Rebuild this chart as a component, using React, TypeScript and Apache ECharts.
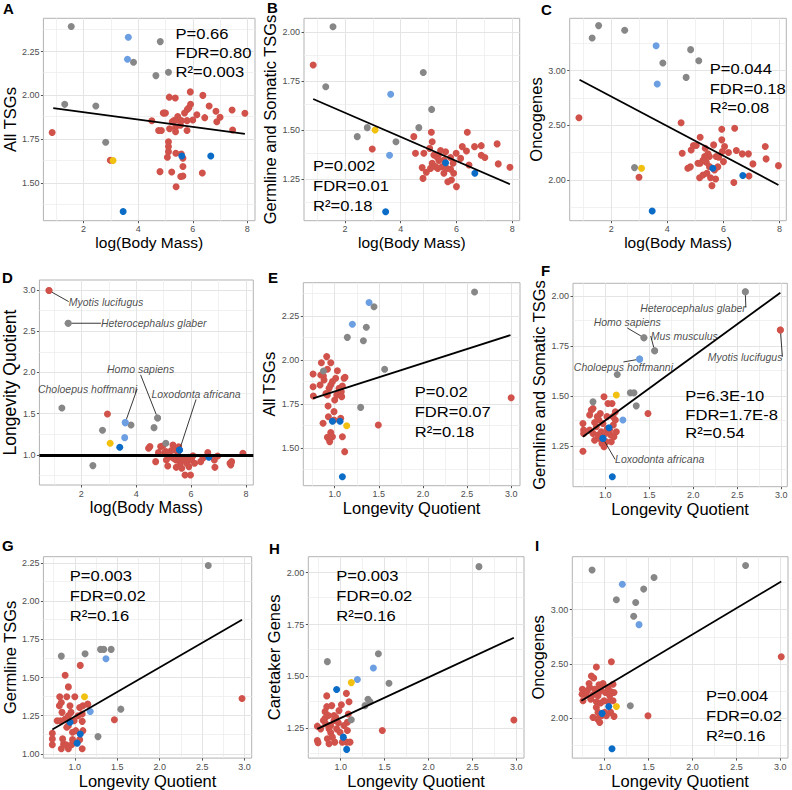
import React, { useEffect, useRef } from "react";
import * as echarts from "echarts";

const FONT = "'Liberation Sans', Arial, Helvetica, sans-serif";
const RED = "#D0524A";
const GRAY = "#878787";
const LBLUE = "#6C9FE2";
const BLUE = "#0A6CC6";
const YELLOW = "#F2C00F";

// ---- tick values ----
const bodyMassTicks = [2, 4, 6, 8];
const bodyMassMinor = [1, 3, 5, 7];
const lqTicks = [1.0, 1.5, 2.0, 2.5, 3.0];
const lqMinor = [0.75, 1.25, 1.75, 2.25, 2.75];
const allTsgTicks = [1.5, 1.75, 2.0, 2.25];
const allTsgMinor = [1.375, 1.625, 1.875, 2.125, 2.375];
const gsTicks = [1.25, 1.5, 1.75, 2.0];
const gsMinor = [1.125, 1.375, 1.625, 1.875];
const oncoTicks = [2.0, 2.5, 3.0];
const oncoMinor = [1.75, 2.25, 2.75, 3.25];
const germTicks = [1.0, 1.25, 1.5, 1.75, 2.0, 2.25];
const germMinor = [1.125, 1.375, 1.625, 1.875, 2.125];

// ---- Panel A: log(Body Mass) vs All TSGs ----
const A_red = [[0.85,1.788],[2.98,1.63],[4.5,1.855],[4.75,1.8],[4.85,1.8],[4.8,1.565],[4.92,1.9],[5.0,1.9],[5.14,1.99],[5.36,1.985],[5.11,1.736],[5.11,1.708],[5.11,1.679],[5.07,1.647],[5.23,1.563],[5.31,1.856],[5.4,1.86],[5.37,1.818],[5.37,1.793],[5.38,1.67],[5.58,1.856],[5.58,1.666],[5.64,1.641],[5.64,1.594],[5.56,1.537],[5.64,1.54],[5.39,1.479],[5.79,1.856],[5.79,1.8],[5.8,1.92],[5.86,1.93],[5.92,1.95],[5.91,2.02],[6.0,1.86],[6.15,1.89],[6.37,2.0],[6.44,1.873],[6.6,1.94],[6.35,1.557],[6.85,1.91],[6.88,1.85],[7.0,1.875],[7.44,1.917],[7.46,1.803],[7.91,1.898],[5.25,1.85],[5.45,1.88],[5.7,1.9],[5.55,1.83],[4.95,1.9],[5.15,1.81]];
const A_gray = [[1.55,2.393],[4.81,2.307],[3.83,2.189],[5.11,2.132],[4.65,2.113],[1.31,1.949],[2.45,1.94],[2.81,1.733]];
const A_lblue = [[3.64,2.332],[3.61,2.206]];
const A_blue = [[3.45,1.337],[6.66,1.654],[5.6,1.654]];
const A_yellow = [[3.08,1.628]];
const A_fit = [[0.89,1.927],[7.91,1.78]];
const A_stats = ["P=0.66", "FDR=0.80", "R²=0.003"];

// ---- Panel B: log(Body Mass) vs Germline and Somatic TSGs ----
const B_red = [[0.86,1.832],[2.98,1.403],[4.47,1.466],[4.53,1.381],[4.77,1.308],[4.83,1.381],[4.8,1.253],[4.92,1.284],[5.04,1.406],[5.13,1.44],[5.19,1.372],[5.13,1.33],[5.07,1.304],[5.29,1.364],[5.33,1.304],[5.37,1.344],[5.43,1.395],[5.49,1.313],[5.55,1.279],[5.61,1.389],[5.65,1.304],[5.69,1.236],[5.79,1.36],[5.82,1.245],[5.88,1.33],[5.9,1.279],[5.99,1.381],[6.0,1.211],[6.15,1.355],[6.36,1.393],[6.39,1.488],[6.45,1.321],[6.65,1.415],[6.89,1.42],[6.89,1.371],[7.02,1.36],[7.46,1.429],[7.5,1.327],[7.92,1.31],[5.79,1.3],[5.55,1.347],[5.25,1.313],[6.21,1.415],[5.1,1.488],[5.35,1.37]];
const B_gray = [[1.57,2.027],[1.31,1.721],[4.81,1.793],[5.11,1.605],[4.65,1.512],[2.8,1.512],[2.44,1.466],[3.83,1.44]];
const B_lblue = [[3.64,1.682],[3.6,1.371]];
const B_blue = [[3.46,1.083],[5.61,1.333],[6.66,1.279]];
const B_yellow = [[3.08,1.5]];
const B_fit = [[0.86,1.658],[7.92,1.223]];
const B_stats = ["P=0.002", "FDR=0.01", "R²=0.18"];

// ---- Panel C: log(Body Mass) vs Oncogenes ----
const C_red = [[0.85,2.569],[2.99,2.024],[4.49,2.523],[4.53,2.245],[4.73,2.107],[4.82,2.12],[4.85,2.275],[4.93,2.315],[5.03,2.315],[5.09,2.153],[5.15,2.021],[5.17,2.153],[5.17,2.391],[5.27,2.046],[5.33,2.214],[5.35,2.29],[5.39,2.162],[5.41,2.061],[5.45,2.239],[5.5,2.122],[5.54,2.021],[5.59,1.948],[5.65,2.321],[5.68,2.092],[5.72,2.009],[5.74,2.214],[5.83,2.208],[5.94,2.465],[5.94,2.367],[5.96,2.26],[6.0,2.168],[6.04,2.306],[6.18,2.251],[6.37,1.976],[6.4,2.474],[6.46,2.269],[6.67,2.239],[6.89,2.239],[6.91,2.037],[7.05,2.147],[7.49,2.306],[7.52,2.193],[7.96,2.131],[5.27,2.18],[5.8,2.12],[5.5,2.214]];
const C_gray = [[1.55,3.413],[1.32,3.3],[2.48,3.37],[4.83,3.193],[5.12,3.092],[3.84,3.07],[4.67,2.939],[2.83,2.113]];
const C_lblue = [[3.6,3.229],[3.64,2.878]];
const C_blue = [[3.46,1.716],[5.62,2.107],[6.69,2.04]];
const C_yellow = [[3.08,2.107]];
const C_fit = [[0.87,2.917],[7.96,1.954]];
const C_stats = ["P=0.044", "FDR=0.18", "R²=0.08"];

// ---- Panel D: log(Body Mass) vs Longevity Quotient ----
const D_red = [[0.82,2.992],[2.95,1.497],[4.45,1.081],[4.5,1.101],[4.71,0.919],[4.81,1.028],[4.89,1.101],[4.97,1.109],[5.04,1.028],[5.1,0.939],[5.15,0.867],[5.24,0.98],[5.28,1.053],[5.34,1.121],[5.4,1.061],[5.45,0.939],[5.46,0.85],[5.52,1.0],[5.6,0.891],[5.64,0.96],[5.66,0.838],[5.72,0.939],[5.78,0.758],[5.84,0.899],[5.9,0.972],[5.92,0.859],[5.98,0.758],[6.02,0.939],[6.13,0.899],[6.35,0.919],[6.43,0.96],[6.61,1.028],[6.85,0.939],[6.87,0.85],[6.97,0.988],[7.42,0.899],[7.45,0.88],[7.48,0.919],[7.89,1.02],[5.36,0.96],[5.09,1.04],[6.07,0.99],[5.55,1.1]];
const D_gray = [[1.52,2.596],[1.29,1.57],[4.78,1.448],[4.65,1.331],[3.81,1.364],[2.77,1.299],[5.08,1.141],[2.42,0.871]];
const D_lblue = [[3.6,1.392],[3.58,1.21]];
const D_blue = [[3.4,1.093],[5.58,1.061],[6.65,0.972]];
const D_yellow = [[3.05,1.141]];
const D_reference = 1.0;
const D_labels = [
  { name: "Myotis lucifugus", pt: D_red[0], color: RED },
  { name: "Heterocephalus glaber", pt: D_gray[0], color: GRAY },
  { name: "Homo sapiens", pt: D_gray[2], color: GRAY },
  { name: "Choloepus hoffmanni", pt: D_lblue[0], color: LBLUE },
  { name: "Loxodonta africana", pt: D_blue[1], color: BLUE },
];

// ---- Panel E: Longevity Quotient vs All TSGs ----
const E_red = [[3.0,1.787],[1.494,1.632],[0.755,1.921],[0.755,1.849],[0.758,1.797],[0.849,1.985],[0.834,1.859],[0.842,1.916],[0.872,1.91],[0.879,1.887],[0.868,1.642],[0.909,2.02],[0.917,1.948],[0.917,1.802],[0.925,1.74],[0.928,1.679],[0.917,1.562],[0.943,1.538],[0.955,1.589],[0.955,1.859],[0.955,1.985],[0.974,1.878],[0.974,1.566],[0.992,1.708],[0.992,1.661],[1.011,1.897],[1.023,1.802],[1.03,1.94],[1.049,1.84],[1.068,1.67],[1.075,1.821],[1.079,1.793],[1.087,1.566],[1.087,1.853],[1.106,1.897],[1.117,1.903],[1.113,1.481],[0.9,1.81],[0.936,1.84],[1.0,1.774],[1.06,1.83]];
const E_gray = [[2.585,2.386],[1.445,2.303],[1.358,2.186],[1.143,2.129],[1.325,2.11],[1.566,1.948],[1.294,1.732],[0.872,1.938]];
const E_lblue = [[1.389,2.327],[1.2,2.203]];
const E_blue = [[0.974,1.653],[1.06,1.653],[1.087,1.339]];
const E_yellow = [[1.136,1.628]];
const E_fit = [[0.755,1.783],[2.992,2.142]];
const E_stats = ["P=0.02", "FDR=0.07", "R²=0.18"];

// ---- Panel F: Longevity Quotient vs Germline and Somatic TSGs ----
const F_red = [[2.989,1.83],[1.485,1.412],[0.746,1.223],[0.746,1.362],[0.754,1.329],[0.754,1.312],[0.822,1.404],[0.841,1.429],[0.86,1.437],[0.86,1.312],[0.879,1.278],[0.898,1.345],[0.909,1.396],[0.917,1.304],[0.928,1.379],[0.943,1.412],[0.955,1.32],[0.962,1.262],[0.973,1.362],[0.985,1.496],[1.0,1.312],[1.011,1.27],[1.019,1.396],[1.03,1.462],[1.049,1.329],[1.061,1.304],[1.076,1.462],[1.087,1.396],[1.091,1.354],[1.098,1.295],[1.114,1.379],[1.114,1.42],[1.125,1.32],[0.879,1.367],[0.822,1.329],[0.936,1.287],[1.023,1.337],[0.985,1.245],[1.068,1.27]];
const F_gray = [[2.591,2.022],[1.439,1.791],[1.561,1.726],[1.136,1.607],[1.284,1.516],[1.326,1.516],[1.352,1.45],[0.86,1.47]];
const F_lblue = [[1.39,1.684],[1.2,1.379]];
const F_blue = [[1.042,1.34],[0.973,1.287],[1.08,1.095]];
const F_yellow = [[1.125,1.504]];
const F_fit = [[0.746,1.295],[2.989,2.017]];
const F_stats = ["P=6.3E-10", "FDR=1.7E-8", "R²=0.54"];
const F_labels = [
  { name: "Heterocephalus glaber", pt: F_gray[0], color: GRAY },
  { name: "Homo sapiens", pt: F_gray[1], color: GRAY },
  { name: "Mus musculus", pt: F_gray[2], color: GRAY },
  { name: "Myotis lucifugus", pt: F_red[0], color: RED },
  { name: "Choloepus hoffmanni", pt: F_lblue[0], color: LBLUE },
  { name: "Loxodonta africana", pt: F_blue[1], color: BLUE },
];

// ---- Panel G: Longevity Quotient vs Germline TSGs ----
const G_red = [[2.97,1.363],[1.466,1.224],[1.064,1.58],[0.886,1.515],[0.924,1.439],[0.822,1.374],[0.905,1.374],[1.0,1.374],[0.841,1.337],[0.818,1.315],[1.095,1.315],[1.057,1.304],[0.955,1.272],[0.849,1.272],[1.087,1.261],[0.924,1.25],[0.792,1.217],[0.83,1.217],[0.886,1.228],[0.992,1.217],[1.087,1.213],[0.924,1.185],[0.905,1.174],[1.011,1.152],[0.973,1.141],[0.735,1.135],[0.735,1.098],[0.735,1.059],[0.856,1.098],[0.867,1.065],[0.898,1.059],[0.924,1.033],[0.841,1.033],[0.962,1.059],[0.973,1.093],[1.057,1.093],[1.087,1.033],[1.095,1.152],[1.152,1.326],[0.943,1.315],[1.038,1.25]];
const G_gray = [[2.572,2.235],[0.841,1.641],[1.121,1.657],[1.303,1.685],[1.341,1.685],[1.428,1.685],[1.542,1.293],[1.273,1.113]];
const G_lblue = [[1.367,1.624],[1.182,1.278]];
const G_blue = [[0.943,1.207],[1.064,1.13],[1.027,1.07]];
const G_yellow = [[1.114,1.374]];
const G_fit = [[0.735,1.159],[2.97,1.88]];
const G_stats = ["P=0.003", "FDR=0.02", "R²=0.16"];

// ---- Panel H: Longevity Quotient vs Caretaker Genes ----
const H_red = [[2.973,1.29],[1.474,1.239],[0.841,1.406],[1.065,1.418],[1.095,1.378],[1.008,1.363],[0.898,1.359],[0.841,1.354],[0.822,1.33],[0.86,1.311],[0.924,1.311],[0.981,1.335],[0.822,1.298],[0.803,1.287],[1.087,1.319],[0.924,1.287],[0.973,1.276],[0.886,1.263],[1.038,1.263],[0.734,1.26],[0.772,1.247],[1.076,1.279],[0.867,1.247],[0.954,1.247],[0.886,1.228],[0.992,1.231],[0.905,1.207],[0.734,1.191],[0.742,1.18],[0.848,1.199],[0.932,1.183],[0.867,1.175],[1.019,1.183],[1.068,1.183],[1.106,1.183],[1.076,1.239],[0.943,1.303],[0.829,1.271]];
const H_gray = [[2.575,2.029],[0.848,1.571],[1.429,1.609],[1.55,1.467],[1.311,1.39],[1.334,1.378],[1.277,1.359],[1.121,1.291]];
const H_lblue = [[1.372,1.54],[1.19,1.485]];
const H_blue = [[0.954,1.437],[1.03,1.207],[1.068,1.148]];
const H_yellow = [[1.121,1.47]];
const H_fit = [[0.734,1.247],[2.973,1.686]];
const H_stats = ["P=0.003", "FDR=0.02", "R²=0.16"];

// ---- Panel I: Longevity Quotient vs Oncogenes ----
const I_red = [[3.011,2.566],[1.493,2.021],[1.076,2.52],[0.905,2.471],[0.848,2.388],[0.875,2.37],[0.822,2.318],[0.935,2.306],[0.981,2.318],[0.746,2.266],[0.829,2.281],[0.886,2.266],[0.954,2.266],[1.038,2.281],[1.095,2.312],[0.742,2.22],[0.791,2.211],[0.867,2.214],[0.924,2.205],[1.008,2.235],[1.068,2.245],[1.106,2.235],[0.753,2.159],[0.841,2.174],[0.905,2.15],[0.954,2.138],[0.992,2.159],[1.038,2.15],[1.095,2.159],[0.905,2.098],[0.924,2.052],[0.867,2.006],[0.917,1.991],[0.943,1.96],[0.962,2.021],[1.0,2.052],[1.068,2.052],[1.106,2.015],[1.019,2.021],[0.803,2.251],[1.057,2.205],[0.932,2.235]];
const I_gray = [[2.605,3.407],[0.856,3.367],[1.562,3.297],[1.444,3.19],[1.133,3.092],[1.353,3.067],[1.33,2.939],[1.292,2.113]];
const I_lblue = [[1.201,3.235],[1.391,2.862]];
const I_blue = [[1.046,2.107],[0.97,2.043],[1.083,1.716]];
const I_yellow = [[1.133,2.107]];
const I_fit = [[0.734,2.159],[3.011,3.26]];
const I_stats = ["P=0.004", "FDR=0.02", "R²=0.16"];

// ---- panel definitions (layout kept separate from values) ----
type Layout = {
  grid: number[]; xr: number[]; yr: number[];
  xGap: number; yGap: number; xSize: number; ySize: number;
  letter: number[]; stats?: number[];
};

const panels: any[] = [
  { letter: "A", red: A_red, gray: A_gray, lblue: A_lblue, blue: A_blue, yellow: A_yellow, fit: A_fit, stats: A_stats,
    xName: "log(Body Mass)", yName: "All TSGs", xT: bodyMassTicks, xM: bodyMassMinor, yT: allTsgTicks, yM: allTsgMinor, xDec: 0, yDec: 2 },
  { letter: "B", red: B_red, gray: B_gray, lblue: B_lblue, blue: B_blue, yellow: B_yellow, fit: B_fit, stats: B_stats,
    xName: "log(Body Mass)", yName: "Germline and Somatic TSGs", xT: bodyMassTicks, xM: bodyMassMinor, yT: gsTicks, yM: gsMinor, xDec: 0, yDec: 2 },
  { letter: "C", red: C_red, gray: C_gray, lblue: C_lblue, blue: C_blue, yellow: C_yellow, fit: C_fit, stats: C_stats,
    xName: "log(Body Mass)", yName: "Oncogenes", xT: bodyMassTicks, xM: bodyMassMinor, yT: oncoTicks, yM: oncoMinor, xDec: 0, yDec: 2 },
  { letter: "D", red: D_red, gray: D_gray, lblue: D_lblue, blue: D_blue, yellow: D_yellow, ref: D_reference, labels: D_labels,
    xName: "log(Body Mass)", yName: "Longevity Quotient", xT: bodyMassTicks, xM: bodyMassMinor, yT: lqTicks, yM: lqMinor, xDec: 0, yDec: 1 },
  { letter: "E", red: E_red, gray: E_gray, lblue: E_lblue, blue: E_blue, yellow: E_yellow, fit: E_fit, stats: E_stats,
    xName: "Longevity Quotient", yName: "All TSGs", xT: lqTicks, xM: lqMinor, yT: allTsgTicks, yM: allTsgMinor, xDec: 1, yDec: 2 },
  { letter: "F", red: F_red, gray: F_gray, lblue: F_lblue, blue: F_blue, yellow: F_yellow, fit: F_fit, stats: F_stats, labels: F_labels,
    xName: "Longevity Quotient", yName: "Germline and Somatic TSGs", xT: lqTicks, xM: lqMinor, yT: gsTicks, yM: gsMinor, xDec: 1, yDec: 2 },
  { letter: "G", red: G_red, gray: G_gray, lblue: G_lblue, blue: G_blue, yellow: G_yellow, fit: G_fit, stats: G_stats,
    xName: "Longevity Quotient", yName: "Germline TSGs", xT: lqTicks, xM: lqMinor, yT: germTicks, yM: germMinor, xDec: 1, yDec: 2 },
  { letter: "H", red: H_red, gray: H_gray, lblue: H_lblue, blue: H_blue, yellow: H_yellow, fit: H_fit, stats: H_stats,
    xName: "Longevity Quotient", yName: "Caretaker Genes", xT: lqTicks, xM: lqMinor, yT: gsTicks, yM: gsMinor, xDec: 1, yDec: 2 },
  { letter: "I", red: I_red, gray: I_gray, lblue: I_lblue, blue: I_blue, yellow: I_yellow, fit: I_fit, stats: I_stats,
    xName: "Longevity Quotient", yName: "Oncogenes", xT: lqTicks, xM: lqMinor, yT: oncoTicks, yM: oncoMinor, xDec: 1, yDec: 2 },
];

const layouts: Layout[] = [
  { grid: [39, 18.3, 216, 202.4], xr: [0.53, 8.28], yr: [1.285, 2.44], xGap: 12, yGap: 21.5, xSize: 15.5, ySize: 16.5, letter: [3, 1], stats: [175.5, 23.6, 19.2] },
  { grid: [304, 18.3, 215.7, 202.4], xr: [0.53, 8.27], yr: [1.037, 2.07], xGap: 12, yGap: 21.5, xSize: 15.5, ySize: 16.5, letter: [267, 0], stats: [313, 155.7, 20] },
  { grid: [569.7, 18.3, 216.6, 202.4], xr: [0.52, 8.24], yr: [1.627, 3.48], xGap: 12, yGap: 21.5, xSize: 15.5, ySize: 16.5, letter: [541, 1.5], stats: [709.7, 58.5, 19.5] },
  { grid: [34.3, 280, 219, 205], xr: [0.47, 8.27], yr: [0.636, 3.12], xGap: 12, yGap: 16, xSize: 16.3, ySize: 17.5, letter: [2, 270] },
  { grid: [303.3, 282.7, 216.7, 203], xr: [0.644, 3.1], yr: [1.288, 2.439], xGap: 14, yGap: 21, xSize: 16.5, ySize: 16.5, letter: [268, 270], stats: [414.7, 381.7, 20] },
  { grid: [573, 283.3, 214.3, 203.4], xr: [0.633, 3.068], yr: [1.045, 2.064], xGap: 13, yGap: 18.5, xSize: 16.5, ySize: 16.5, letter: [541, 263], stats: [685.3, 385.7, 18.7] },
  { grid: [35.7, 556.7, 216, 202.6], xr: [0.63, 3.084], yr: [0.972, 2.293], xGap: 12, yGap: 18.5, xSize: 16.5, ySize: 16.5, letter: [2, 538], stats: [69.7, 565, 20] },
  { grid: [308.3, 556.7, 215.7, 202.6], xr: [0.631, 3.088], yr: [1.106, 2.077], xGap: 12, yGap: 19, xSize: 16.5, ySize: 16.5, letter: [269, 541], stats: [336.3, 565, 20] },
  { grid: [572.3, 556.7, 215.7, 202.6], xr: [0.631, 3.088], yr: [1.63, 3.489], xGap: 12, yGap: 19.5, xSize: 16.5, ySize: 16.5, letter: [535, 538], stats: [706, 685, 20] },
];

// label offsets (pixels, label centre relative to its point)
const D_labelOffsets = [[57, 11], [85.5, 0], [-17, -48.7], [-37.7, -33.7], [16.5, -56]];
const F_labelOffsets = [[-52.3, 16], [-16.7, -15.4], [29.6, -14.7], [-35.3, 26.7], [-16.2, 8.3], [56.8, 21]];

function buildOption() {
  const grid: any[] = [];
  const xAxis: any[] = [];
  const yAxis: any[] = [];
  const series: any[] = [];
  const graphic: any[] = [];

  panels.forEach((p, i) => {
    const L = layouts[i];
    grid.push({
      left: L.grid[0], top: L.grid[1], width: L.grid[2], height: L.grid[3],
      show: true, borderColor: "#B3B3B3", borderWidth: 1, backgroundColor: "#FFFFFF", containLabel: false,
    });
    const axisCommon = (ticks: number[], dec: number) => ({
      axisLine: { show: false },
      splitLine: { show: false },
      axisTick: { show: true, customValues: ticks, length: 2.5, lineStyle: { color: "#555", width: 1 } },
      axisLabel: {
        customValues: ticks, fontSize: 9, color: "#4D4D4D", fontFamily: FONT, margin: 4,
        formatter: (v: number) => v.toFixed(dec),
      },
    });
    xAxis.push({
      type: "value", gridIndex: i, min: L.xr[0], max: L.xr[1],
      name: p.xName, nameLocation: "middle", nameGap: L.xGap,
      nameTextStyle: { fontFamily: FONT, fontSize: L.xSize, color: "#000" },
      ...axisCommon(p.xT, p.xDec),
    });
    yAxis.push({
      type: "value", gridIndex: i, min: L.yr[0], max: L.yr[1],
      name: p.yName, nameLocation: "middle", nameGap: L.yGap,
      nameTextStyle: { fontFamily: FONT, fontSize: L.ySize, color: "#000" },
      ...axisCommon(p.yT, p.yDec),
    });

    const major = { color: "#E4E4E4", width: 1, type: "solid" };
    const minor = { color: "#EEEEEE", width: 0.8, type: "solid" };
    series.push({
      type: "scatter", xAxisIndex: i, yAxisIndex: i, data: [], silent: true,
      markLine: {
        silent: true, z: 1, symbol: ["none", "none"], animation: false, label: { show: false },
        emphasis: { disabled: true },
        data: [
          ...p.xM.map((v: number) => ({ xAxis: v, lineStyle: minor })),
          ...p.yM.map((v: number) => ({ yAxis: v, lineStyle: minor })),
          ...p.xT.map((v: number) => ({ xAxis: v, lineStyle: major })),
          ...p.yT.map((v: number) => ({ yAxis: v, lineStyle: major })),
        ],
      },
    });

    const groups: [number[][], string][] = [
      [p.red, RED], [p.gray, GRAY], [p.lblue, LBLUE], [p.blue, BLUE], [p.yellow, YELLOW],
    ];
    groups.forEach(([d, c]) => {
      series.push({
        type: "scatter", xAxisIndex: i, yAxisIndex: i, data: d, z: 3,
        symbol: "circle", symbolSize: 7, itemStyle: { color: c, opacity: 1 }, silent: true,
      });
    });

    if (p.fit) {
      series.push({
        type: "line", xAxisIndex: i, yAxisIndex: i, data: p.fit, z: 4, symbol: "none", silent: true,
        lineStyle: { color: "#000", width: 1.8 },
      });
    }
    if (p.ref !== undefined) {
      series.push({
        type: "line", xAxisIndex: i, yAxisIndex: i, data: [], z: 4, silent: true,
        markLine: {
          silent: true, z: 4, symbol: ["none", "none"], animation: false, label: { show: false },
          lineStyle: { color: "#000", width: 3, type: "solid" },
          data: [{ yAxis: p.ref }],
        },
      });
    }
    if (p.labels) {
      const offsets = p.letter === "D" ? D_labelOffsets : F_labelOffsets;
      series.push({
        type: "scatter", xAxisIndex: i, yAxisIndex: i, z: 5, silent: true,
        symbol: "circle", symbolSize: 7,
        data: p.labels.map((l: any) => ({ value: l.pt, name: l.name, itemStyle: { color: l.color } })),
        label: {
          show: true, position: "inside", formatter: "{b}", fontStyle: "italic", fontSize: 10.5,
          color: "#1A1A1A", fontFamily: FONT,
        },
        labelLayout: (params: any) => ({ dx: offsets[params.dataIndex][0], dy: offsets[params.dataIndex][1] }),
        labelLine: { show: true, lineStyle: { color: "#222", width: 0.9 } },
      });
    }

    graphic.push({
      type: "text", x: L.letter[0], y: L.letter[1], silent: true,
      style: { text: p.letter, fontSize: 15, fontWeight: "bold", fill: "#000", fontFamily: FONT, align: "left", verticalAlign: "top" },
    });
    if (p.stats && L.stats) {
      graphic.push({
        type: "text", x: L.stats[0], y: L.stats[1], silent: true, z: 10, scaleX: 1.07,
        style: {
          text: p.stats.join("\n"), fontSize: 15.5, lineHeight: L.stats[2], fill: "#000",
          fontFamily: FONT, align: "left", verticalAlign: "top",
        },
      });
    }
  });

  return { animation: false, backgroundColor: "#FFFFFF", grid, xAxis, yAxis, series, graphic };
}

export default function App() {
  const ref = useRef<HTMLDivElement>(null);
  useEffect(() => {
    if (!ref.current) return;
    const chart = echarts.init(ref.current, undefined, { renderer: "svg" });
    chart.setOption(buildOption() as any);
    return () => chart.dispose();
  }, []);
  return (
    <div
      ref={ref}
      style={{ position: "absolute", left: 0, top: 0, width: 792, height: 790, background: "#fff" }}
    />
  );
}
